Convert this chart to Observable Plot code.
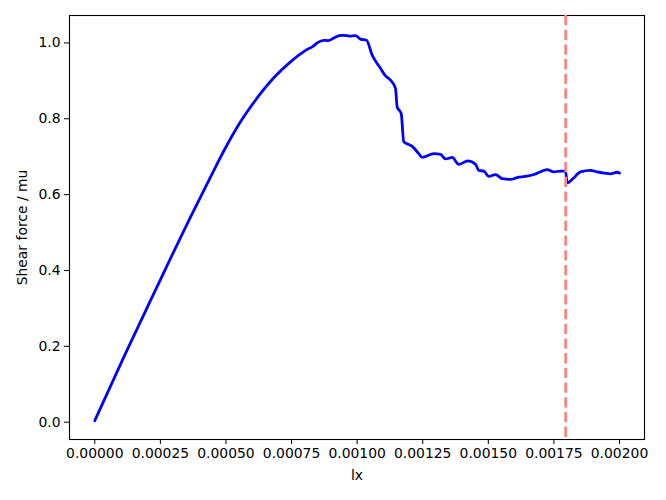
<!DOCTYPE html>
<html>
<head>
<meta charset="utf-8">
<script src="https://cdn.jsdelivr.net/npm/d3@7"></script>
<script src="https://cdn.jsdelivr.net/npm/@observablehq/plot@0.6"></script>
<style>
  html, body { margin: 0; padding: 0; background: #fff; }
</style>
</head>
<body>
<div id="chart"></div>
<script>
// displacement lx (m)
const lx = [
  0.0000000, 0.0001105, 0.0002379, 0.0003648, 0.0004400, 0.0004917, 0.0005554, 0.0006190,
  0.0006823, 0.0007459, 0.0007841, 0.0008096, 0.0008300, 0.0008477, 0.0008729,
  0.0008900, 0.0009110, 0.0009365, 0.0009491, 0.0009700, 0.0009937, 0.0010128,
  0.0010356, 0.0010573, 0.0010890, 0.0011081, 0.0011271, 0.0011462, 0.0011526,
  0.0011679, 0.0011778, 0.0011969, 0.0012098, 0.0012350, 0.0012479, 0.0012922,
  0.0013177, 0.0013368, 0.0013623, 0.0013875, 0.0014218, 0.0014511, 0.0014637,
  0.0014828, 0.0015018, 0.0015273, 0.0015529, 0.0015845, 0.0016101, 0.0016417,
  0.0016733, 0.0017054, 0.0017244, 0.0017496, 0.0017751, 0.0017942, 0.0018007,
  0.0018197, 0.0018514, 0.0018895, 0.0019150, 0.0019402, 0.0019657, 0.0019912,
  0.0020000
];
// shear force / mu
const shear = [
  0.004, 0.1715, 0.358, 0.541, 0.645, 0.715, 0.792, 0.855,
  0.908, 0.950, 0.971, 0.983, 0.990, 1.000, 1.007,
  1.006, 1.013, 1.020, 1.020, 1.018, 1.019, 1.010,
  1.007, 0.968, 0.933, 0.913, 0.902, 0.880, 0.831,
  0.814, 0.739, 0.732, 0.727, 0.708, 0.698, 0.708,
  0.706, 0.694, 0.698, 0.680, 0.689, 0.680, 0.664,
  0.662, 0.648, 0.653, 0.642, 0.640, 0.645, 0.648,
  0.653, 0.662, 0.666, 0.660, 0.662, 0.662, 0.631,
  0.640, 0.660, 0.664, 0.660, 0.657, 0.655, 0.659,
  0.657
];
const xTicks = [0, 0.00025, 0.0005, 0.00075, 0.001, 0.00125, 0.0015, 0.00175, 0.002];
const yTicks = [0.0, 0.2, 0.4, 0.6, 0.8, 1.0];
const markerX = [0.001795];

const data = lx.map((x, i) => ({x, y: shear[i]}));

const chart = Plot.plot({
  width: 666,
  height: 500,
  marginLeft: 69,
  marginRight: 22,
  marginTop: 15,
  marginBottom: 61,
  style: {fontFamily: "DejaVu Sans", fontSize: "13.9px", background: "#fff", color: "#000", overflow: "visible"},
  x: {domain: [-0.0000964, 0.0020953]},
  y: {domain: [-0.0456, 1.0723]},
  marks: [
    Plot.frame({stroke: "#000", strokeWidth: 1.1}),
    Plot.axisX({ticks: xTicks, tickFormat: d3.format(".5f"), tickSize: 5, tickPadding: 4,
      label: "lx", labelAnchor: "center", labelArrow: false, labelOffset: 40}),
    Plot.axisY({ticks: yTicks, tickFormat: d3.format(".1f"), tickSize: 5, tickPadding: 4,
      label: "Shear force / mu", labelAnchor: "center", labelArrow: false, labelOffset: 52}),
    Plot.line(data, {x: "x", y: "y", stroke: "#0000ff", strokeWidth: 2.78, strokeLinejoin: "round", curve: "monotone-x"}),
    Plot.ruleX(markerX, {stroke: "#ff8080", strokeWidth: 2.78, strokeDasharray: "10.3,4.4"})
  ]
});
document.getElementById("chart").appendChild(chart);
</script>
</body>
</html>
